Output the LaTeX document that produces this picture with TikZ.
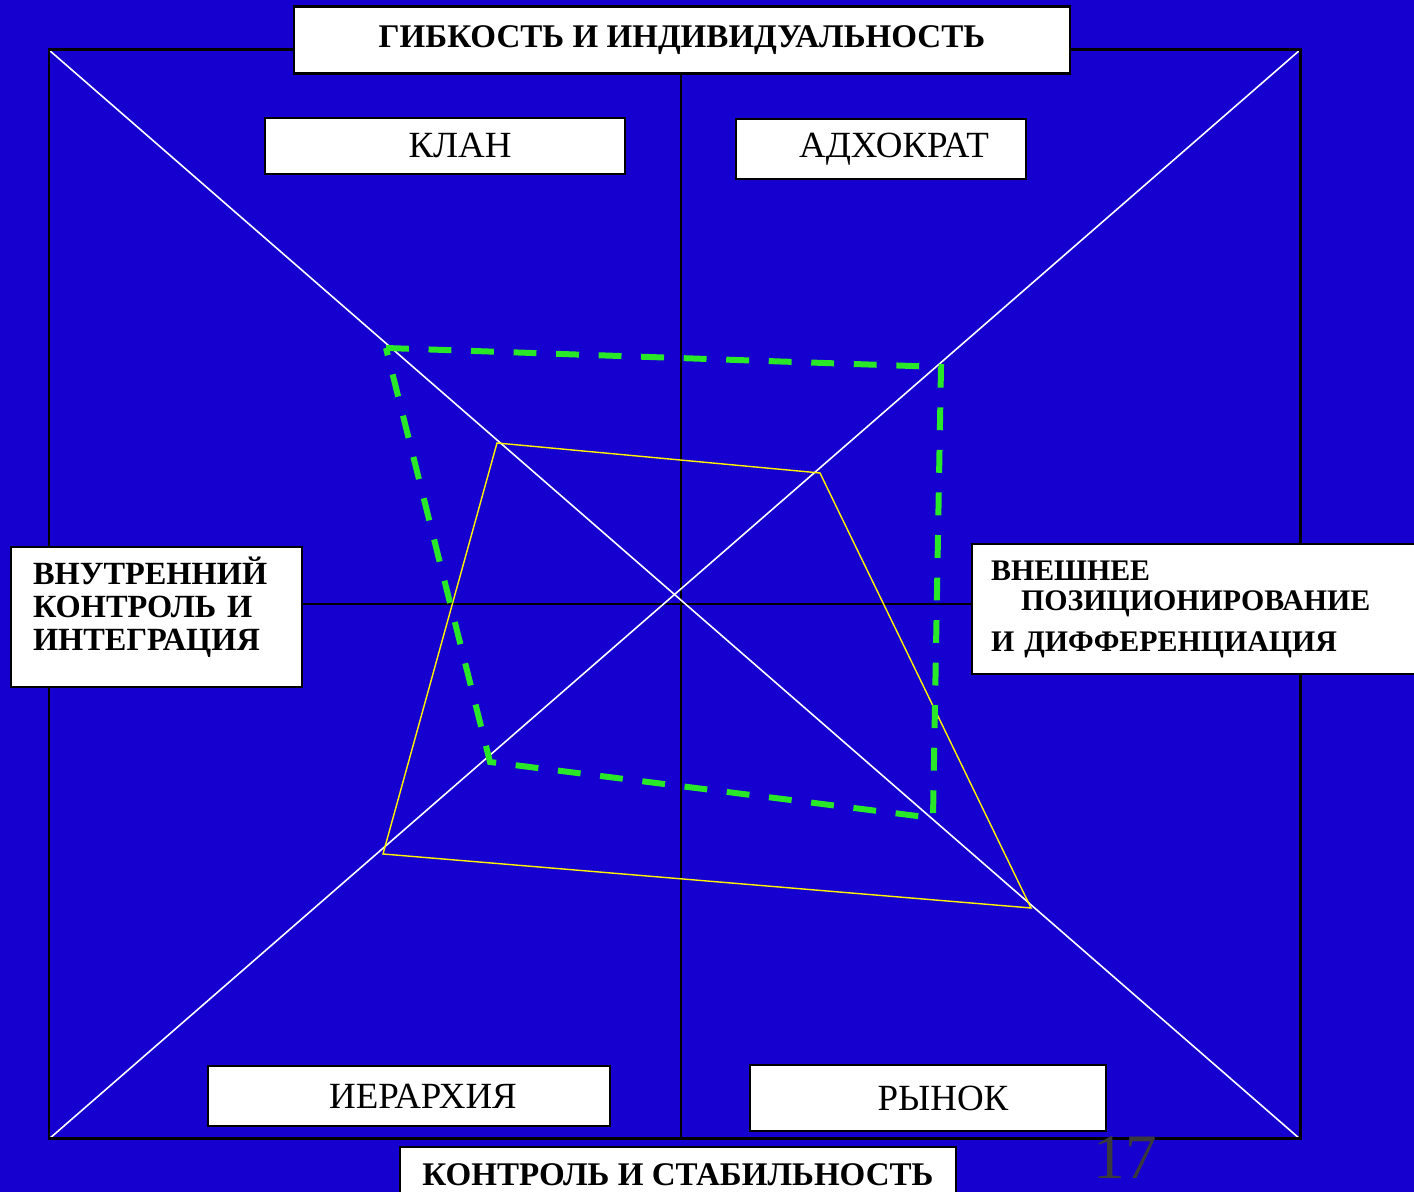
\documentclass[tikz,border=0pt]{standalone}
\usepackage{fontspec}
\setmainfont{Liberation Serif}
\definecolor{slideblue}{RGB}{22,0,208}
\definecolor{dashgreen}{RGB}{40,232,40}
\definecolor{pagegray}{RGB}{58,58,58}

\begin{document}
\begin{tikzpicture}[x=0.01cm, y=-0.01cm,
    box/.style={draw=black, line width=0.6pt, fill=white, inner sep=0pt},
    capbox/.style={box, font=\fontsize{9.4}{9.4}\selectfont\bfseries},
    quadbox/.style={box, font=\fontsize{10.5}{12}\selectfont},
    diag/.style={white, line width=0.45pt},
    axis/.style={black, line width=0.4pt},
    profile/.style={yellow, line width=0.4pt},
    target/.style={dashgreen, line width=1.7pt, dash pattern=on 6.5pt off 5.6pt}]
  \useasboundingbox (0,0) rectangle (1414,1192);
  \clip (0,0) rectangle (1414,1192);
  \fill[slideblue] (0,0) rectangle (1414,1192);

  % frame corners and centre
  \coordinate (tl) at (49,50);
  \coordinate (tr) at (1300,50);
  \coordinate (br) at (1300,1139);
  \coordinate (bl) at (49,1139);
  \coordinate (top) at (681,50);
  \coordinate (bot) at (681,1139);
  \coordinate (lft) at (49,604);
  \coordinate (rgt) at (1300,604);

  % axes and diagonals
  \draw[axis] (top) -- (bot);
  \draw[axis] (lft) -- (rgt);
  \draw[diag] (tl) -- (br);
  \draw[diag] (tr) -- (bl);

  % current profile
  \coordinate (p1) at (497,443);
  \coordinate (p2) at (820,473);
  \coordinate (p3) at (1031,908);
  \coordinate (p4) at (383,854);
  \draw[profile] (p1) -- (p2) -- (p3) -- (p4) -- cycle;

  % preferred profile
  \coordinate (q1) at (386,348);
  \coordinate (q2) at (941,367);
  \coordinate (q3) at (933,818);
  \coordinate (q4) at (490,762);
  \draw[target] (q1) -- (q2) -- (q3) -- (q4) -- cycle;

  \draw[black, line width=0.85pt] (tl) -- (tr) -- (br) -- (bl) -- cycle;

  % labels
  \node[capbox, minimum width=7.76cm, minimum height=0.67cm] (flex) at (682,40)
    {ГИБКОСТЬ И ИНДИВИДУАЛЬНОСТЬ};
  \node[quadbox, minimum width=3.59cm, minimum height=0.56cm] (clan) at (445,146)
    {\hspace*{0.3cm}КЛАН};
  \node[quadbox, minimum width=2.90cm, minimum height=0.60cm] (adhoc) at (881,149)
    {\hspace*{0.26cm}АДХОКРАТ};
  \node[quadbox, minimum width=4.02cm, minimum height=0.60cm] (hier) at (409,1096)
    {\hspace*{0.28cm}ИЕРАРХИЯ};
  \node[quadbox, minimum width=3.56cm, minimum height=0.66cm] (market) at (928,1098)
    {\hspace*{0.3cm}РЫНОК};
  \node[capbox, minimum width=5.55cm, minimum height=0.56cm] (stab) at (678,1175)
    {КОНТРОЛЬ И СТАБИЛЬНОСТЬ};
  \node[capbox, anchor=north west, minimum width=2.91cm, minimum height=1.40cm,
        text width=2.47cm, inner xsep=0.22cm, align=left, text depth=26.5pt,
        font=\fontsize{9.2}{9.4}\selectfont\bfseries] (inner) at (10,546)
    {ВНУТРЕННИЙ\\КОНТРОЛЬ И\\ИНТЕГРАЦИЯ};
  \node[capbox, anchor=north west, minimum width=4.43cm, minimum height=1.30cm,
        text width=4.05cm, inner xsep=0.19cm, align=left,
        font=\fontsize{8.5}{8.6}\selectfont\bfseries] (outer) at (971,543)
    {ВНЕШНЕЕ\\\hspace*{0.3cm}ПОЗИЦИОНИРОВАНИЕ\\[3pt]И ДИФФЕРЕНЦИАЦИЯ};

  \node[pagegray, font=\fontsize{18}{18}\selectfont] (page) at (1125,1158) {17};
\end{tikzpicture}
\end{document}
